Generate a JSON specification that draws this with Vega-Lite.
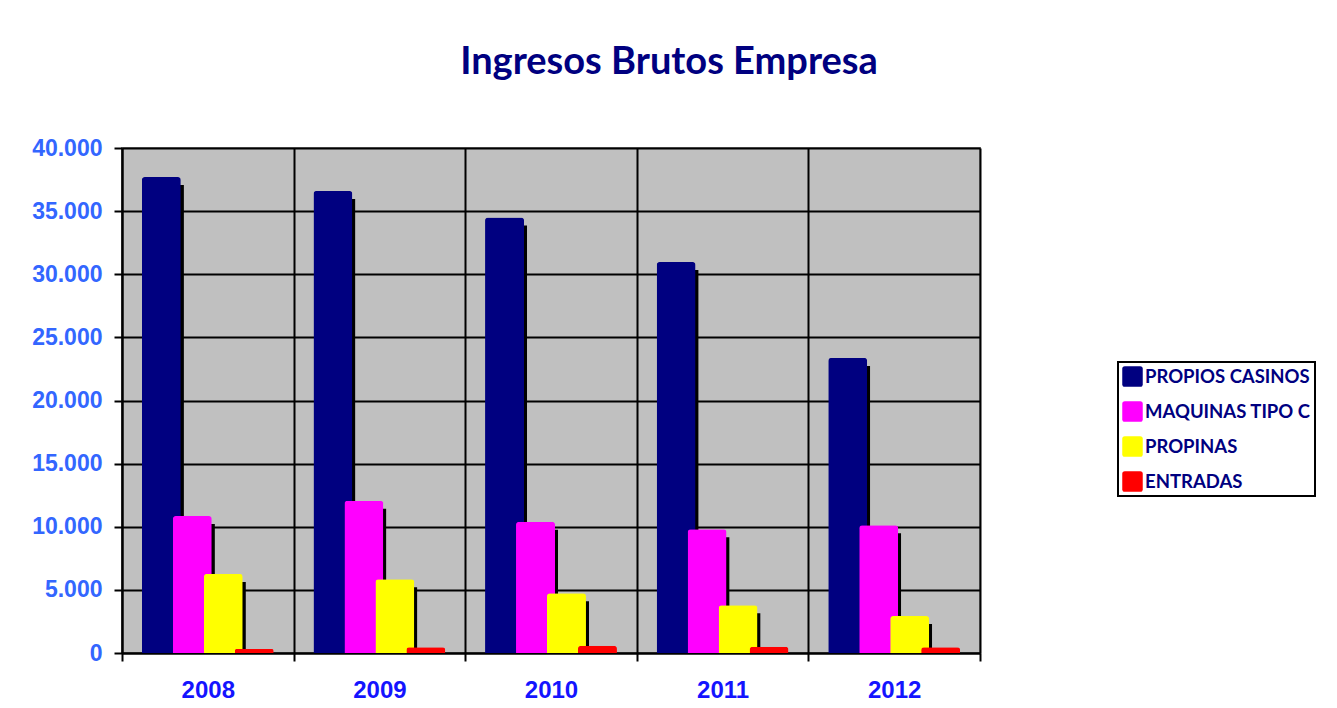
{
  "$schema": "https://vega.github.io/schema/vega-lite/v6.json",
  "width": 858,
  "height": 505,
  "autosize": {"type": "none"},
  "padding": {"left": 122, "top": 148, "right": 357, "bottom": 55},
  "background": "white",
  "title": {
    "text": "Ingresos Brutos Empresa",
    "font": "Lato",
    "fontSize": 38,
    "fontWeight": "bold",
    "color": "#000080",
    "anchor": "middle",
    "dx": 118,
    "offset": 55
  },
  "config": {
    "view": {"fill": "#C0C0C0", "stroke": "#808080", "strokeWidth": 2},
    "legend": {"strokeWidth": 2}
  },
  "data": {
    "values": [
      {"year": "2008", "series": "PROPIOS CASINOS", "value": 37700},
      {"year": "2008", "series": "MAQUINAS TIPO C", "value": 10850},
      {"year": "2008", "series": "PROPINAS", "value": 6260},
      {"year": "2008", "series": "ENTRADAS", "value": 320},
      {"year": "2009", "series": "PROPIOS CASINOS", "value": 36600},
      {"year": "2009", "series": "MAQUINAS TIPO C", "value": 12060},
      {"year": "2009", "series": "PROPINAS", "value": 5840},
      {"year": "2009", "series": "ENTRADAS", "value": 450},
      {"year": "2010", "series": "PROPIOS CASINOS", "value": 34500},
      {"year": "2010", "series": "MAQUINAS TIPO C", "value": 10400},
      {"year": "2010", "series": "PROPINAS", "value": 4730},
      {"year": "2010", "series": "ENTRADAS", "value": 580},
      {"year": "2011", "series": "PROPIOS CASINOS", "value": 30970},
      {"year": "2011", "series": "MAQUINAS TIPO C", "value": 9800},
      {"year": "2011", "series": "PROPINAS", "value": 3780},
      {"year": "2011", "series": "ENTRADAS", "value": 500},
      {"year": "2012", "series": "PROPIOS CASINOS", "value": 23370},
      {"year": "2012", "series": "MAQUINAS TIPO C", "value": 10110},
      {"year": "2012", "series": "PROPINAS", "value": 2930},
      {"year": "2012", "series": "ENTRADAS", "value": 450}
    ]
  },
  "encoding": {
    "x": {
      "field": "year",
      "type": "nominal",
      "scale": {"paddingInner": 0, "paddingOuter": 0},
      "axis": {
        "title": null,
        "labelAngle": 0,
        "tickBand": "extent",
        "grid": true,
        "gridColor": "black",
        "gridWidth": 2,
        "gridOpacity": 1,
        "domainColor": "black",
        "domainWidth": 2,
        "tickColor": "black",
        "tickWidth": 2,
        "tickSize": 8,
        "labelFont": "Liberation Sans",
        "labelFontWeight": "bold",
        "labelFontSize": 24,
        "labelColor": "#1414FF",
        "labelPadding": 17
      }
    },
    "y": {
      "field": "value",
      "type": "quantitative",
      "scale": {"domain": [0, 40000], "nice": false},
      "axis": {
        "title": null,
        "values": [0, 5000, 10000, 15000, 20000, 25000, 30000, 35000, 40000],
        "labelExpr": "replace(format(datum.value, ','), ',', '.')",
        "grid": true,
        "gridColor": "black",
        "gridWidth": 2,
        "gridOpacity": 1,
        "domainColor": "black",
        "domainWidth": 2,
        "tickColor": "black",
        "tickWidth": 2,
        "tickSize": 8,
        "labelFont": "Liberation Sans",
        "labelFontWeight": "bold",
        "labelFontSize": 23,
        "labelColor": "#3366FF",
        "labelPadding": 12
      }
    }
  },
  "resolve": {"scale": {"xOffset": "independent"}},
  "layer": [
    {
      "mark": {
        "type": "bar",
        "width": 39,
        "color": "black",
        "yOffset": 8,
        "cornerRadiusTopLeft": 2,
        "cornerRadiusTopRight": 2
      },
      "encoding": {
        "xOffset": {
          "field": "series",
          "type": "nominal",
          "scale": {
            "domain": ["PROPIOS CASINOS", "MAQUINAS TIPO C", "PROPINAS", "ENTRADAS"],
            "paddingInner": 0,
            "paddingOuter": 0.77,
            "align": 0.565
          }
        }
      }
    },
    {
      "mark": {
        "type": "bar",
        "width": 39,
        "cornerRadiusTopLeft": 3,
        "cornerRadiusTopRight": 3
      },
      "encoding": {
        "xOffset": {
          "field": "series",
          "type": "nominal",
          "scale": {
            "domain": ["PROPIOS CASINOS", "MAQUINAS TIPO C", "PROPINAS", "ENTRADAS"],
            "paddingInner": 0,
            "paddingOuter": 0.77
          }
        },
        "color": {
          "field": "series",
          "type": "nominal",
          "scale": {
            "domain": ["PROPIOS CASINOS", "MAQUINAS TIPO C", "PROPINAS", "ENTRADAS"],
            "range": ["#000080", "#FF00FF", "#FFFF00", "#FF0000"]
          },
          "legend": {
            "title": null,
            "orient": "none",
            "legendX": 996,
            "legendY": 214,
            "padding": 4,
            "strokeColor": "black",
            "fillColor": "white",
            "symbolType": "M-0.75,-1L0.75,-1Q1,-1 1,-0.75L1,0.75Q1,1 0.75,1L-0.75,1Q-1,1 -1,0.75L-1,-0.75Q-1,-1 -0.75,-1Z",
            "symbolSize": 420,
            "symbolStrokeWidth": 0,
            "symbolOpacity": 1,
            "rowPadding": 14,
            "labelOffset": 2,
            "labelFont": "Lato",
            "labelFontWeight": "bold",
            "labelFontSize": 18.5,
            "labelColor": "#000080",
            "labelLimit": 300
          }
        }
      }
    }
  ]
}
